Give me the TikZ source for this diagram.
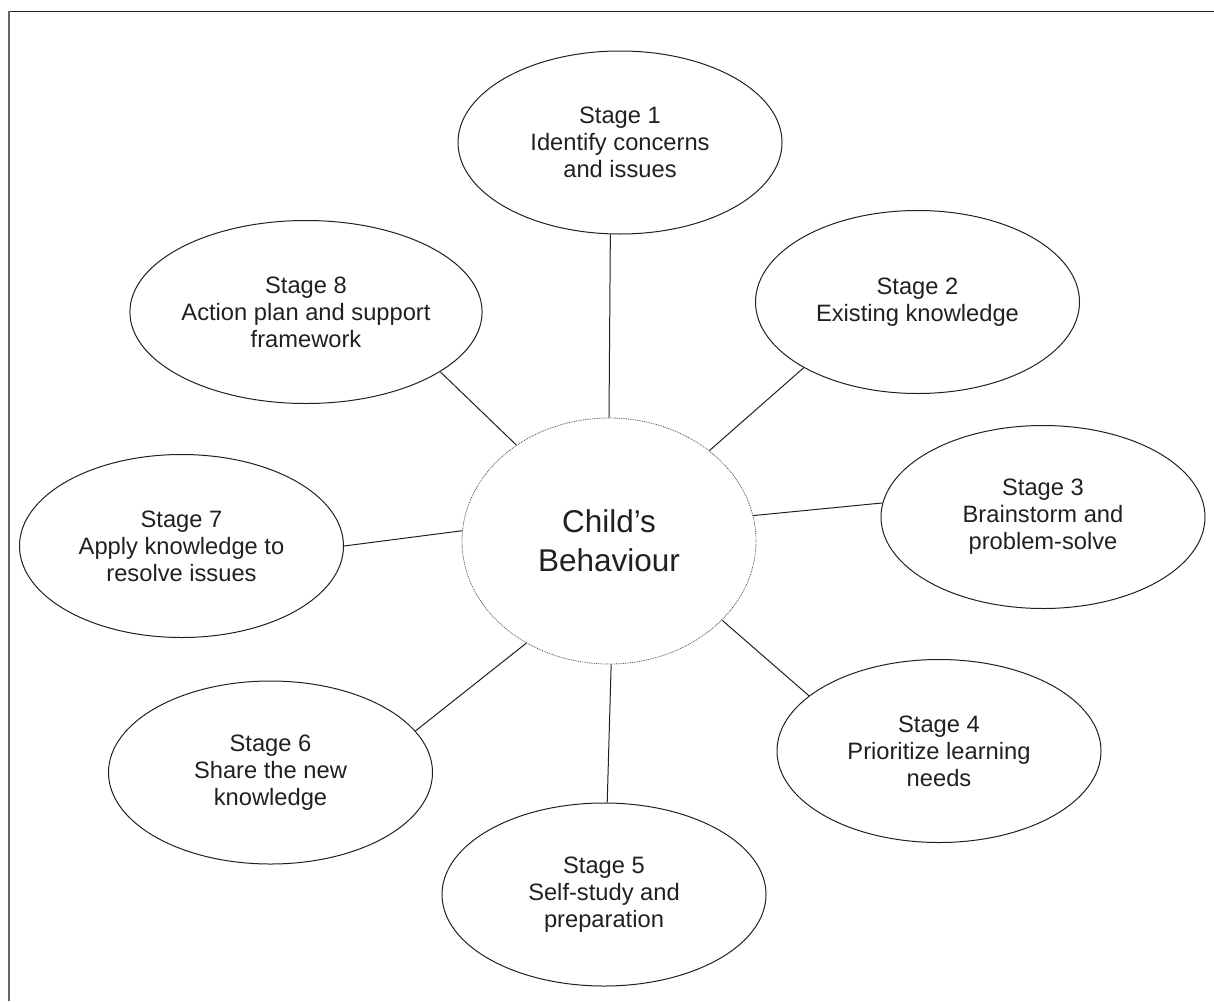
\documentclass[tikz,border=0pt]{standalone}
\usepackage{fontspec}
\setmainfont{Liberation Sans}
\usetikzlibrary{shapes.geometric}
\definecolor{ink}{HTML}{231F20}
\tikzset{
    stage/.style={
           ellipse,
           draw=ink, line width=1pt,
           minimum width=324pt,
           minimum height=183pt,
           inner sep=0pt,
           text=ink,
           align=center,
           font=\fontsize{23.7pt}{27pt}\selectfont},
    hub/.style={
           ellipse,
           draw=black!65, line width=0.8pt,
           dash pattern=on 0.9pt off 0.9pt,
           minimum width=294pt,
           minimum height=246pt,
           inner sep=0pt,
           text=ink,
           align=center,
           font=\fontsize{31.5pt}{39pt}\selectfont},
    link/.style={
           draw=ink,
           line width=1pt}
}

\begin{document}
\begin{tikzpicture}[x=1pt,y=-1pt]
          \useasboundingbox (0,0) rectangle (1214,1001);
          \draw[line width=1.6pt, black!85] (8,11.5) -- (1214,11.5);
          \draw[line width=2pt, black!60] (8.5,10.7) -- (8.5,1001);
          \node[hub](child) at (609,541) {Child’s\\Behaviour};
          \node[stage](stage1) at (620,142.5) {Stage 1\\Identify concerns\\and issues};
          \node[stage](stage2) at (917.5,302) {Stage 2\\Existing knowledge};
          \node[stage](stage3) at (1043,517) {Stage 3\\Brainstorm and\\problem-solve};
          \node[stage](stage4) at (939,751) {Stage 4\\Prioritize learning\\needs};
          \node[stage](stage5) at (604,894.5) {Stage 5\\Self-study and\\preparation};
          \node[stage](stage6) at (270.5,772.5) {Stage 6\\Share the new\\knowledge};
          \node[stage](stage7) at (181.5,546) {Stage 7\\Apply knowledge to\\resolve issues};
          \node[stage](stage8) at (306,312) {Stage 8\\Action plan and support\\framework};
          \draw[link] (child.90) -- (stage1.264);
          \draw[link] (child.42) -- (stage2.210);
          \draw[link] (child.10) -- (stage3.175);
          \draw[link] (child.325) -- (stage4.157);
          \draw[link] (child.271) -- (stage5.88);
          \draw[link] (child.231) -- (stage6.16);
          \draw[link] (child.176) -- (stage7.0);
          \draw[link] (child.134) -- (stage8.336);
\end{tikzpicture}
\end{document}
